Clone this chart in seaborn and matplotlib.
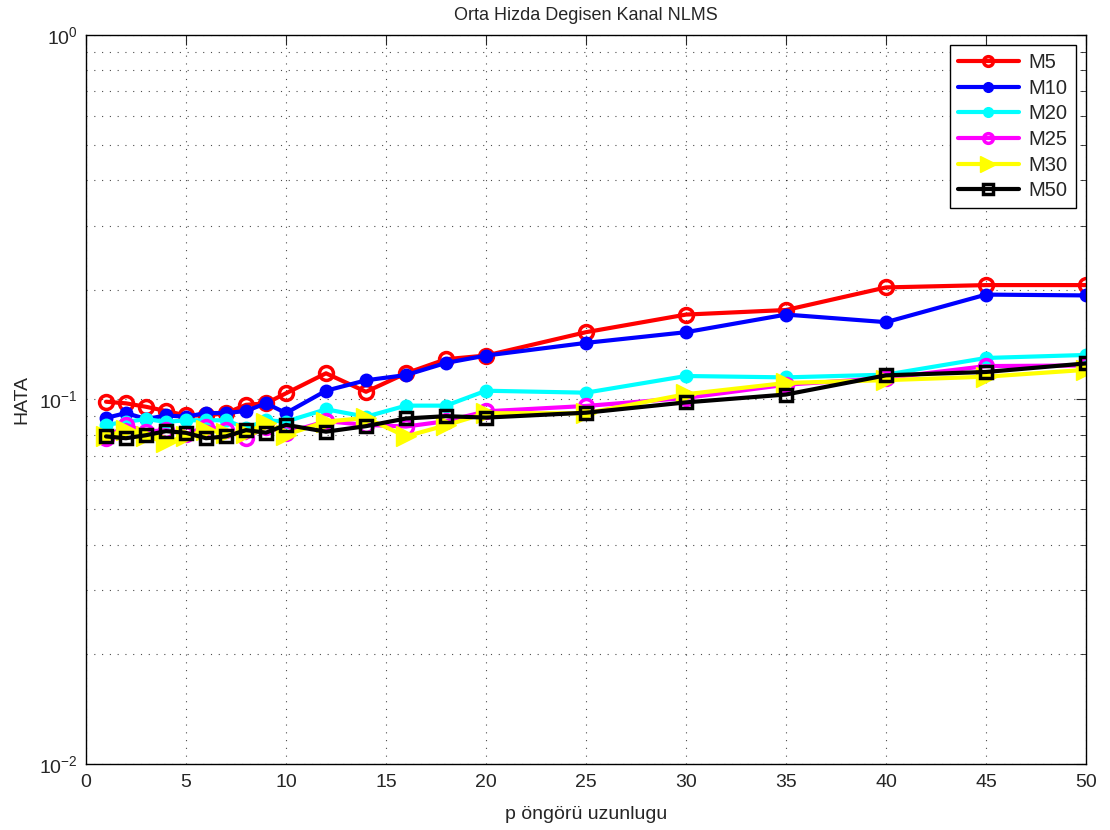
import numpy as np
import pandas as pd
import matplotlib
matplotlib.use("Agg")
import matplotlib.pyplot as plt
import seaborn as sns
from matplotlib.ticker import LogLocator, NullFormatter, FixedLocator

p = [1, 2, 3, 4, 5, 6, 7, 8, 9, 10, 12, 14, 16, 18, 20, 25, 30, 35, 40, 45, 50]

M5 = [0.0986, 0.0976, 0.0955, 0.0930, 0.0904, 0.0904, 0.0917, 0.0967, 0.0976, 0.104,
      0.118, 0.105, 0.118, 0.129, 0.132, 0.153, 0.171, 0.176, 0.203, 0.206, 0.206]
M10 = [0.0890, 0.0918, 0.0884, 0.0904, 0.0897, 0.0918, 0.0918, 0.0930, 0.0976, 0.0918,
       0.1057, 0.1129, 0.1167, 0.126, 0.132, 0.143, 0.153, 0.171, 0.163, 0.194, 0.193]
M20 = [0.0852, 0.0868, 0.0884, 0.0868, 0.0877, 0.0877, 0.0877, 0.0835, 0.0877, 0.0870,
       0.094, 0.0897, 0.0962, 0.0962, 0.1057, 0.1044, 0.116, 0.115, 0.117, 0.130, 0.1325]
M25 = [0.0783, 0.0852, 0.0816, 0.0824, 0.0802, 0.0843, 0.0824, 0.0783, 0.0843, 0.0810,
       0.0872, 0.0852, 0.0843, 0.0872, 0.0928, 0.0960, 0.101, 0.1098, 0.1145, 0.1235, 0.124]
M30 = [0.0792, 0.0824, 0.0792, 0.0764, 0.0792, 0.0824, 0.0810, 0.0810, 0.0860, 0.0800,
       0.0870, 0.0890, 0.0792, 0.0850, 0.0917, 0.0917, 0.1034, 0.1110, 0.1130, 0.1155, 0.1206]
M50 = [0.0792, 0.0783, 0.0798, 0.0819, 0.0810, 0.0783, 0.0792, 0.0824, 0.0811, 0.0852,
       0.0816, 0.0845, 0.0887, 0.0900, 0.0892, 0.0920, 0.0982, 0.1032, 0.1165, 0.1190, 0.1256]

series_names = ["M5", "M10", "M20", "M25", "M30", "M50"]
series_vals = [M5, M10, M20, M25, M30, M50]

styles = {
    "M5":  dict(color="red", marker="o", mfc="none", ms=10, mew=2.5, lms=7),
    "M10": dict(color="blue", marker="o", mfc="blue", ms=9, mew=1, lms=7),
    "M20": dict(color="cyan", marker="o", mfc="cyan", ms=9, mew=1, lms=7),
    "M25": dict(color="magenta", marker="o", mfc="none", ms=10, mew=2.5, lms=7),
    "M30": dict(color="yellow", marker=">", mfc="yellow", ms=15, mew=1, lms=12),
    "M50": dict(color="black", marker="s", mfc="none", ms=8, mew=2.5, lms=7),
}

sns.set_style("white")
plt.rcParams["font.family"] = ["Liberation Sans", "DejaVu Sans"]
plt.rcParams["axes.linewidth"] = 1.0

fig = plt.figure(figsize=(11.1, 8.3), dpi=100)
ax = fig.add_axes([86 / 1110, 1 - 764 / 830, 1000 / 1110, 729 / 830])

for name, vals in zip(series_names, series_vals):
    st = styles[name]
    df = pd.DataFrame({"p": p, "err": vals})
    sns.lineplot(data=df, x="p", y="err", ax=ax, color=st["color"], linewidth=3,
                 marker=st["marker"], markersize=st["ms"], markerfacecolor=st["mfc"],
                 markeredgecolor=st["color"], markeredgewidth=st["mew"], label=name)

ax.set_yscale("log")
ax.set_xlim(0, 50)
ax.set_ylim(1e-2, 1e0)
ax.xaxis.set_major_locator(FixedLocator(np.arange(0, 51, 5)))
ax.yaxis.set_major_locator(LogLocator(base=10, numticks=10))
ax.yaxis.set_minor_locator(LogLocator(base=10, subs=np.arange(2, 10), numticks=20))
ax.yaxis.set_minor_formatter(NullFormatter())

ax.grid(True, which="major", axis="both", linestyle=(0, (1, 6)), color="black", linewidth=0.8, alpha=0.7)
ax.grid(True, which="minor", axis="y", linestyle=(0, (1, 6)), color="black", linewidth=0.8, alpha=0.7)

ax.tick_params(axis="both", which="both", direction="in", top=True, right=True, labelsize=14)
ax.tick_params(axis="x", which="major", length=7, pad=7)
ax.tick_params(axis="y", which="major", length=7, pad=6)
ax.tick_params(axis="y", which="minor", length=4)
for s in ax.spines.values():
    s.set_color("black")
    s.set_visible(True)

ax.set_title("Orta Hizda Degisen Kanal NLMS", fontsize=13, pad=11)
ax.set_xlabel("p öngörü uzunlugu", fontsize=14, labelpad=11)
ax.set_ylabel("HATA", fontsize=14, labelpad=6)

leg = ax.legend(loc="upper right", fontsize=14.5, frameon=True, fancybox=False,
                edgecolor="black", framealpha=1, handlelength=3.0,
                borderaxespad=0.5, labelspacing=0.33, handletextpad=0.5,
                borderpad=0.4)
leg.get_frame().set_linewidth(1.0)
for h, name in zip(leg.legend_handles, series_names):
    h.set_markersize(styles[name]["lms"])

fig.savefig("out.png", dpi=100)
